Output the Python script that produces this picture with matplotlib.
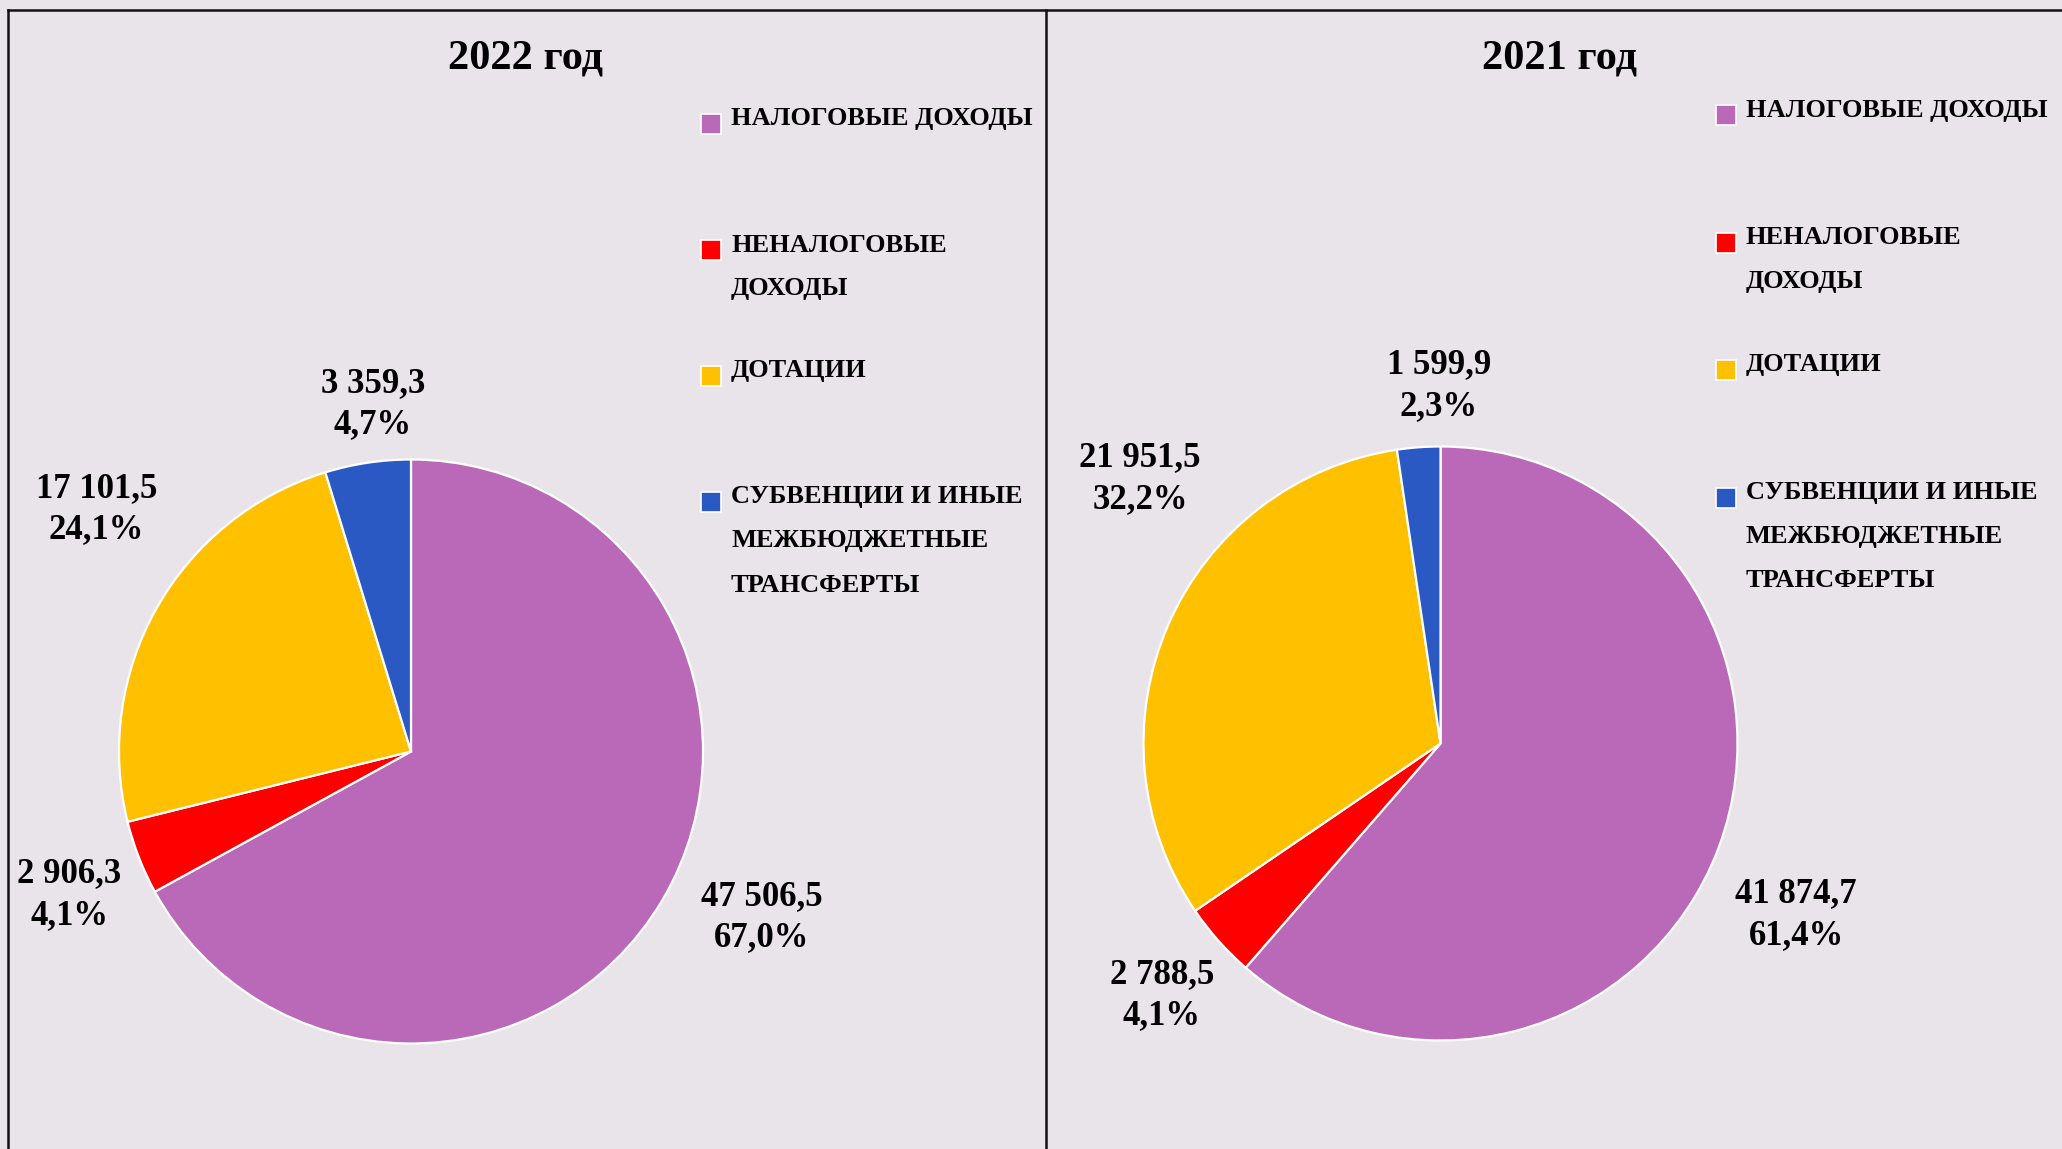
import matplotlib.pyplot as plt
from matplotlib.lines import Line2D
from matplotlib.patches import Rectangle

plt.rcParams["font.family"] = ["Liberation Serif", "DejaVu Serif"]
plt.rcParams["font.weight"] = "bold"

categories = [
    "НАЛОГОВЫЕ ДОХОДЫ",
    "НЕНАЛОГОВЫЕ\nДОХОДЫ",
    "ДОТАЦИИ",
    "СУБВЕНЦИИ И ИНЫЕ\nМЕЖБЮДЖЕТНЫЕ\nТРАНСФЕРТЫ",
]
values_2022 = [47506.5, 2906.3, 17101.5, 3359.3]
shares_2022 = [67.0, 4.1, 24.1, 4.7]
values_2021 = [41874.7, 2788.5, 21951.5, 1599.9]
shares_2021 = [61.4, 4.1, 32.2, 2.3]

colors = ["#BA68B8", "#FF0000", "#FFC000", "#2B59C3"]
bg = "#E9E4EA"

W, H = 2062, 1149


def fmt(v):
    return f"{v:,.1f}".replace(",", " ").replace(".", ",")


def draw_panel(fig, title, values, shares, cx, cy, r, label_pos, title_x,
               leg_x, leg_y0, leg_step):
    ax = fig.add_axes([(cx - r) / W, 1 - (cy + r) / H, 2 * r / W, 2 * r / H])
    ax.pie(
        values,
        colors=colors,
        startangle=90,
        counterclock=False,
        wedgeprops={"edgecolor": "white", "linewidth": 1.6},
    )
    ax.set_xlim(-1, 1)
    ax.set_ylim(-1, 1)
    ax.set_facecolor("none")

    for v, s, (x, y) in zip(values, shares, label_pos):
        ax.text(x, y, f"{fmt(v)}\n{s:.1f}%".replace(".", ","),
                ha="center", va="center", fontsize=25, linespacing=1.35)

    fig.text(title_x / W, 1 - 68 / H, title, ha="center", va="baseline", fontsize=30.5)

    # legend drawn by hand: Excel spreads the entries evenly
    for i, (lab, c) in enumerate(zip(categories, colors)):
        base = leg_y0 + i * leg_step
        fig.patches.append(Rectangle(((leg_x - 10) / W, 1 - (base + 8.5) / H), 20 / W, 20 / H,
                                     transform=fig.transFigure, facecolor=c,
                                     edgecolor="white", linewidth=1.2))
        for j, line in enumerate(lab.split("\n")):
            fig.text((leg_x + 20) / W, 1 - (base + j * 44) / H, line,
                     ha="left", va="baseline", fontsize=19)


def main() -> None:
    fig = plt.figure(figsize=(W / 100, H / 100), dpi=100, facecolor=bg)

    draw_panel(fig, "2022 год", values_2022, shares_2022, 411, 751.5, 292,
               [(1.202, -0.567), (-1.171, -0.491), (-1.077, 0.830), (-0.130, 1.190)],
               526, 711, 125.5, 126)
    draw_panel(fig, "2021 год", values_2021, shares_2021, 1440.5, 743.5, 297,
               [(1.197, -0.577), (-0.938, -0.847), (-1.012, 0.891), (-0.005, 1.204)],
               1559, 1726, 116.5, 127.5)

    lw = 1.8
    fig.add_artist(Line2D([8 / W, 1], [1 - 9.5 / H, 1 - 9.5 / H], color="#111111", lw=lw))
    fig.add_artist(Line2D([8 / W, 8 / W], [0, 1 - 9.5 / H], color="#111111", lw=lw))
    fig.add_artist(Line2D([1046 / W, 1046 / W], [0, 1 - 9.5 / H], color="#111111", lw=lw))

    fig.savefig("out.png", dpi=100, facecolor=bg)


if __name__ == "__main__":
    main()
